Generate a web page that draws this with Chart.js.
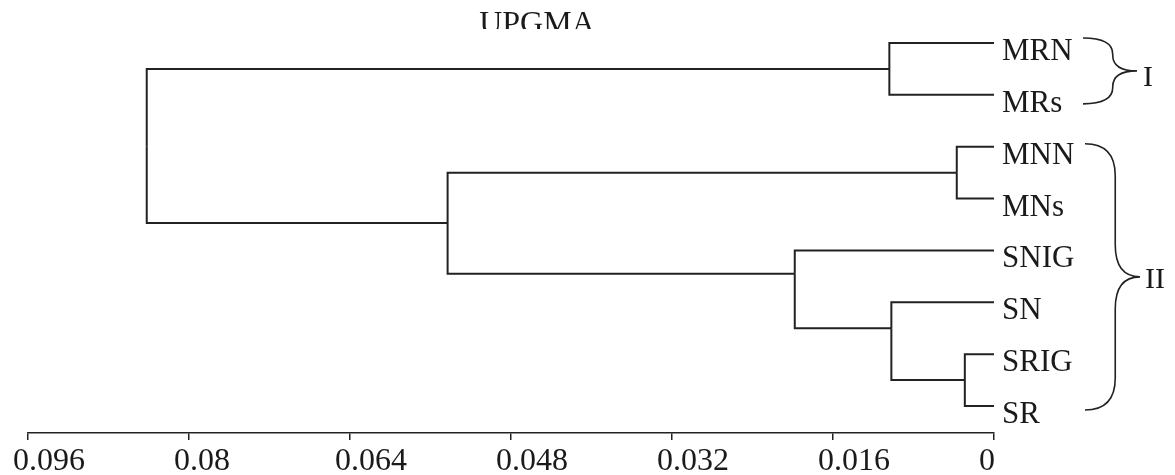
<!DOCTYPE html>
<html>
<head>
<meta charset="utf-8">
<script src="https://cdn.jsdelivr.net/npm/chart.js@4.4.0/dist/chart.umd.min.js"></script>
<style>
  html, body { margin: 0; padding: 0; background: #fff; }
  #wrap { width: 1175px; height: 475px; }
</style>
</head>
<body>
<div id="wrap"><canvas id="dendroChart"></canvas></div>
<script>
// UPGMA dendrogram, distances
const leafLabels = ['MRN', 'MRs', 'MNN', 'MNs', 'SNIG', 'SN', 'SRIG', 'SR'];

// internal nodes: merge distance, row of the stub, and what they join
const nodeNames = ['MR', 'MN', 'SRx', 'SNx', 'SNIGx', 'MNS', 'root'];
const nodeHeights = [0.0104, 0.0037, 0.0029, 0.0102, 0.0198, 0.0543, 0.0842];
const nodeRows = [0.5, 2.5, 6.5, 5.5, 4.45, 3.47, 2.0];
const nodeChildren = [
    ['MRN', 'MRs'],
    ['MNN', 'MNs'],
    ['SRIG', 'SR'],
    ['SN', 'SRx'],
    ['SNIG', 'SNx'],
    ['MN', 'SNIGx'],
    ['MR', 'MNS']
];

const tickValues = [0, 0.016, 0.032, 0.048, 0.064, 0.08, 0.096];
const tickLabels = ['0', '0.016', '0.032', '0.048', '0.064', '0.08', '0.096'];

// braces on the right
const groupNames = ['I', 'II'];
const groupRows = [[0, 1], [2, 7]];

function pos(name) {
    const li = leafLabels.indexOf(name);
    if (li >= 0) return { x: 0, y: li };
    const ni = nodeNames.indexOf(name);
    return { x: nodeHeights[ni], y: nodeRows[ni] };
}

// one elbow per child: child -> corner -> parent stub
const datasets = [];
nodeChildren.forEach((kids, i) => {
    const p = pos(nodeNames[i]);
    kids.forEach(k => {
        const c = pos(k);
        datasets.push({
            data: [{ x: c.x, y: c.y }, { x: p.x, y: c.y }, { x: p.x, y: p.y }],
            showLine: true,
            borderColor: '#222',
            borderWidth: 2,
            borderJoinStyle: 'miter',
            pointRadius: 0,
            fill: false,
            tension: 0,
            clip: false
        });
    });
});

function brace(ctx, x0, top, bottom, w, qMax) {
    const mid = (top + bottom) / 2;
    const xm = x0 + w * 0.55;
    const q = Math.min(qMax, (mid - top) / 2);
    ctx.beginPath();
    ctx.moveTo(x0, top);
    ctx.quadraticCurveTo(xm, top, xm, top + q);
    ctx.lineTo(xm, mid - q);
    ctx.quadraticCurveTo(xm, mid, x0 + w, mid);
    ctx.quadraticCurveTo(xm, mid, xm, mid + q);
    ctx.lineTo(xm, bottom - q);
    ctx.quadraticCurveTo(xm, bottom, x0, bottom);
    ctx.stroke();
}

const extras = {
    id: 'extras',
    afterDraw(chart) {
        const { ctx, scales: { x, y } } = chart;
        const x0 = x.getPixelForValue(0);
        ctx.save();
        ctx.fillStyle = '#1a1a1a';
        ctx.strokeStyle = '#222';
        ctx.textAlign = 'left';
        ctx.textBaseline = 'alphabetic';

        // leaf names
        ctx.font = '31px "Liberation Serif"';
        leafLabels.forEach((lab, i) => {
            ctx.fillText(lab, x0 + 8, y.getPixelForValue(i) + 17);
        });

        // axis numbers (sit a little left of their ticks in the original)
        ctx.font = '32px "Liberation Serif"';
        tickValues.forEach((v, i) => {
            ctx.fillText(tickLabels[i], x.getPixelForValue(v) - 15, x.top + 37);
        });

        // group braces
        ctx.lineWidth = 1.6;
        ctx.font = '30px "Liberation Serif"';
        const t1 = y.getPixelForValue(groupRows[0][0]) - 5;
        const b1 = y.getPixelForValue(groupRows[0][1]) + 9;
        brace(ctx, x0 + 89, t1, b1, 54, 16);
        ctx.fillText(groupNames[0], x0 + 149, (t1 + b1) / 2 + 15);

        const t2 = y.getPixelForValue(groupRows[1][0]) - 3;
        const b2 = y.getPixelForValue(groupRows[1][1]) + 4;
        brace(ctx, x0 + 91, t2, b2, 55, 32);
        ctx.fillText(groupNames[1], x0 + 151, (t2 + b2) / 2 + 11);

        // title, clipped at the bottom like the scan
        ctx.beginPath();
        ctx.rect(0, 0, chart.width, 29);
        ctx.clip();
        ctx.textAlign = 'center';
        ctx.font = '32px "Liberation Serif"';
        ctx.fillText('UPGMA', 537, 33);
        ctx.restore();
    }
};

new Chart(document.getElementById('dendroChart'), {
    type: 'scatter',
    data: { datasets },
    options: {
        responsive: true,
        maintainAspectRatio: false,
        animation: false,
        layout: { padding: { top: 10, left: 28, right: 181, bottom: 35 } },
        plugins: {
            legend: { display: false },
            tooltip: { enabled: false },
            title: { display: false }
        },
        scales: {
            x: {
                type: 'linear',
                reverse: true,
                min: 0,
                max: 0.096,
                afterBuildTicks: (s) => { s.ticks = tickValues.map(v => ({ value: v })); },
                ticks: { display: false },
                grid: {
                    display: true,
                    drawOnChartArea: false,
                    drawTicks: true,
                    tickLength: 7,
                    color: '#222',
                    lineWidth: 1.5
                },
                border: { display: true, color: '#222', width: 1.5 }
            },
            y: {
                type: 'linear',
                reverse: true,
                min: -0.636,
                max: 7.52,
                display: false
            }
        }
    },
    plugins: [extras]
});
</script>
</body>
</html>
